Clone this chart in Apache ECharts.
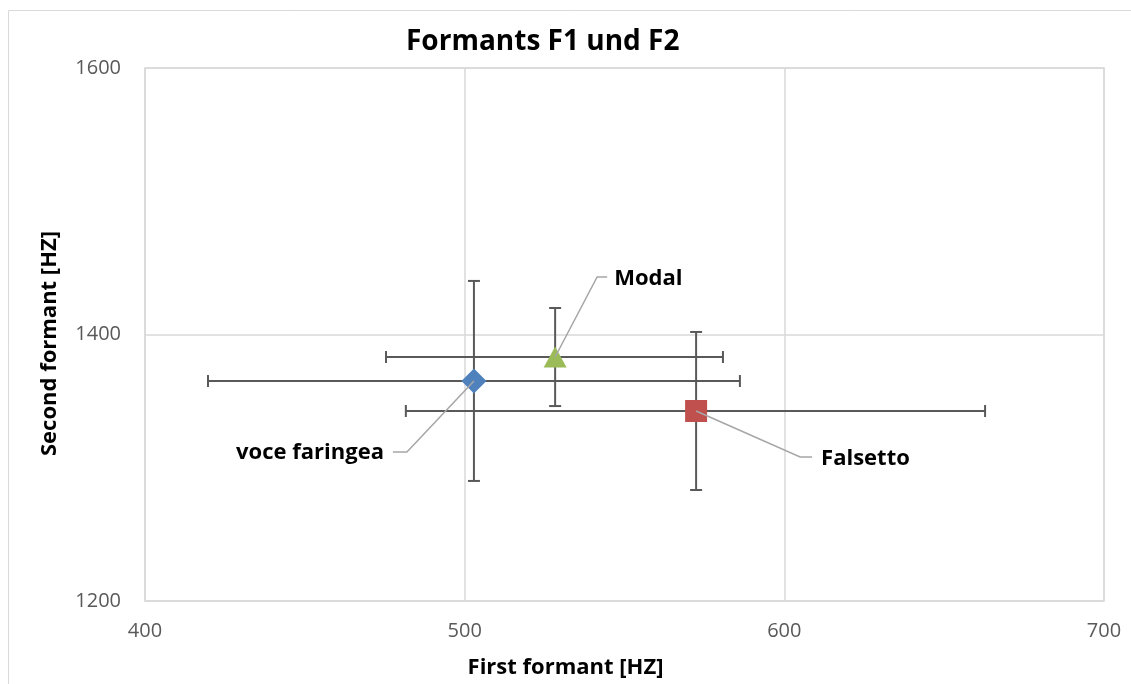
<!DOCTYPE html>
<html>
<head>
<meta charset="utf-8">
<script src="https://cdn.jsdelivr.net/npm/echarts@6/dist/echarts.min.js"></script>
<style>html,body{margin:0;padding:0;background:#fff}#c{width:1131px;height:684px}</style>
</head>
<body>
<div id="c"></div>
<script>
// ---- data ----
const seriesNames = ['voce faringea', 'Falsetto', 'Modal'];
const f1Mean = [502.9, 572.4, 528.3];
const f2Mean = [1365.1, 1342.6, 1383.1];
const f1Low  = [419.7, 481.6, 475.4];
const f1High = [586.1, 662.8, 580.8];
const f2Low  = [1290.1, 1283.3, 1346.3];
const f2High = [1440.2, 1401.9, 1419.9];
const xTicks = [400, 500, 600, 700];
const yTicks = [1200, 1400, 1600];

// ---- styles ----
const FONT = '"Open Sans", "Noto Sans", sans-serif';
const colors = ['#4F81BD', '#C0504D', '#9BBB59'];
const symbols = ['diamond', 'rect', 'triangle'];
const symbolSizes = [[25, 25], [22, 22], [23, 21]];
// leader offsets (px) : bend, end, text anchor, align
const leaders = [
  {bend: [-67, 71], end: [-81, 71], text: [-90, 72], align: 'right'},
  {bend: [104, 46], end: [116, 46], text: [125, 48], align: 'left'},
  {bend: [42, -80], end: [52, -80], text: [59, -78], align: 'left'}
];

const chart = echarts.init(document.getElementById('c'));

const errData = seriesNames.map((n, i) => [f1Mean[i], f2Mean[i], f1Low[i], f1High[i], f2Low[i], f2High[i]]);

const series = [];
series.push({
  type: 'custom',
  name: 'errors',
  z: 2,
  silent: true,
  data: errData,
  renderItem: function (params, api) {
    const c = api.coord([api.value(0), api.value(1)]);
    const xl = api.coord([api.value(2), api.value(1)]);
    const xh = api.coord([api.value(3), api.value(1)]);
    const yl = api.coord([api.value(0), api.value(4)]);
    const yh = api.coord([api.value(0), api.value(5)]);
    const cap = 6;
    const st = {stroke: '#595959', lineWidth: 2};
    const L = (x1, y1, x2, y2) => ({type: 'line', shape: {x1, y1, x2, y2}, style: st});
    return {type: 'group', children: [
      L(xl[0], c[1], xh[0], c[1]),
      L(xl[0], c[1] - cap, xl[0], c[1] + cap),
      L(xh[0], c[1] - cap, xh[0], c[1] + cap),
      L(c[0], yl[1], c[0], yh[1]),
      L(c[0] - cap, yl[1], c[0] + cap, yl[1]),
      L(c[0] - cap, yh[1], c[0] + cap, yh[1])
    ]};
  }
});

seriesNames.forEach((n, i) => {
  series.push({
    type: 'scatter',
    name: n,
    z: 3,
    symbol: symbols[i],
    symbolSize: symbolSizes[i],
    itemStyle: {color: colors[i], opacity: 1},
    data: [[f1Mean[i], f2Mean[i]]]
  });
});

series.push({
  type: 'custom',
  name: 'labels',
  z: 5,
  silent: true,
  data: seriesNames.map((n, i) => [f1Mean[i], f2Mean[i], i]),
  renderItem: function (params, api) {
    const i = api.value(2);
    const c = api.coord([api.value(0), api.value(1)]);
    const ld = leaders[i];
    return {type: 'group', children: [
      {type: 'polyline', shape: {points: [
        [c[0], c[1]],
        [c[0] + ld.bend[0], c[1] + ld.bend[1]],
        [c[0] + ld.end[0], c[1] + ld.end[1]]
      ]}, style: {stroke: '#A6A6A6', lineWidth: 1.5, fill: null}},
      {type: 'text', x: c[0] + ld.text[0], y: c[1] + ld.text[1], style: {
        text: seriesNames[i], fill: '#000', align: ld.align, verticalAlign: 'middle',
        font: 'bold 22px ' + FONT
      }}
    ]};
  }
});

chart.setOption({
  animation: false,
  backgroundColor: '#fff',
  graphic: [
    {type: 'polyline', shape: {points: [[8.5, 684], [8.5, 10.5], [1131, 10.5]]},
     style: {stroke: '#D9D9D9', lineWidth: 1, fill: null}, z: 0}
  ],
  title: {
    text: 'Formants F1 und F2',
    left: 401, top: 23,
    textStyle: {fontFamily: FONT, fontWeight: 'bold', fontSize: 28, color: '#000'}
  },
  grid: {left: 145, top: 68, width: 959, height: 533, show: true, borderColor: '#D9D9D9', borderWidth: 1.5},
  xAxis: {
    type: 'value', min: xTicks[0], max: xTicks[xTicks.length - 1], interval: 100,
    name: 'First formant [HZ]', nameLocation: 'middle', nameGap: 56,
    nameTextStyle: {fontFamily: FONT, fontWeight: 'bold', fontSize: 22, color: '#000', padding: [0, 118, 0, 0]},
    axisLine: {show: false}, axisTick: {show: false},
    axisLabel: {margin: 20, color: '#595959', fontSize: 20, fontFamily: FONT},
    splitLine: {lineStyle: {color: '#D9D9D9', width: 1.5}}
  },
  yAxis: {
    type: 'value', min: yTicks[0], max: yTicks[yTicks.length - 1], interval: 200,
    name: 'Second formant [HZ]', nameLocation: 'middle', nameGap: 84,
    nameTextStyle: {fontFamily: FONT, fontWeight: 'bold', fontSize: 22, color: '#000', padding: [0, 18, 0, 0]},
    axisLine: {show: false}, axisTick: {show: false},
    axisLabel: {margin: 24, color: '#595959', fontSize: 20, fontFamily: FONT, formatter: v => String(v)},
    splitLine: {lineStyle: {color: '#D9D9D9', width: 1.5}}
  },
  series: series
});
</script>
</body>
</html>
